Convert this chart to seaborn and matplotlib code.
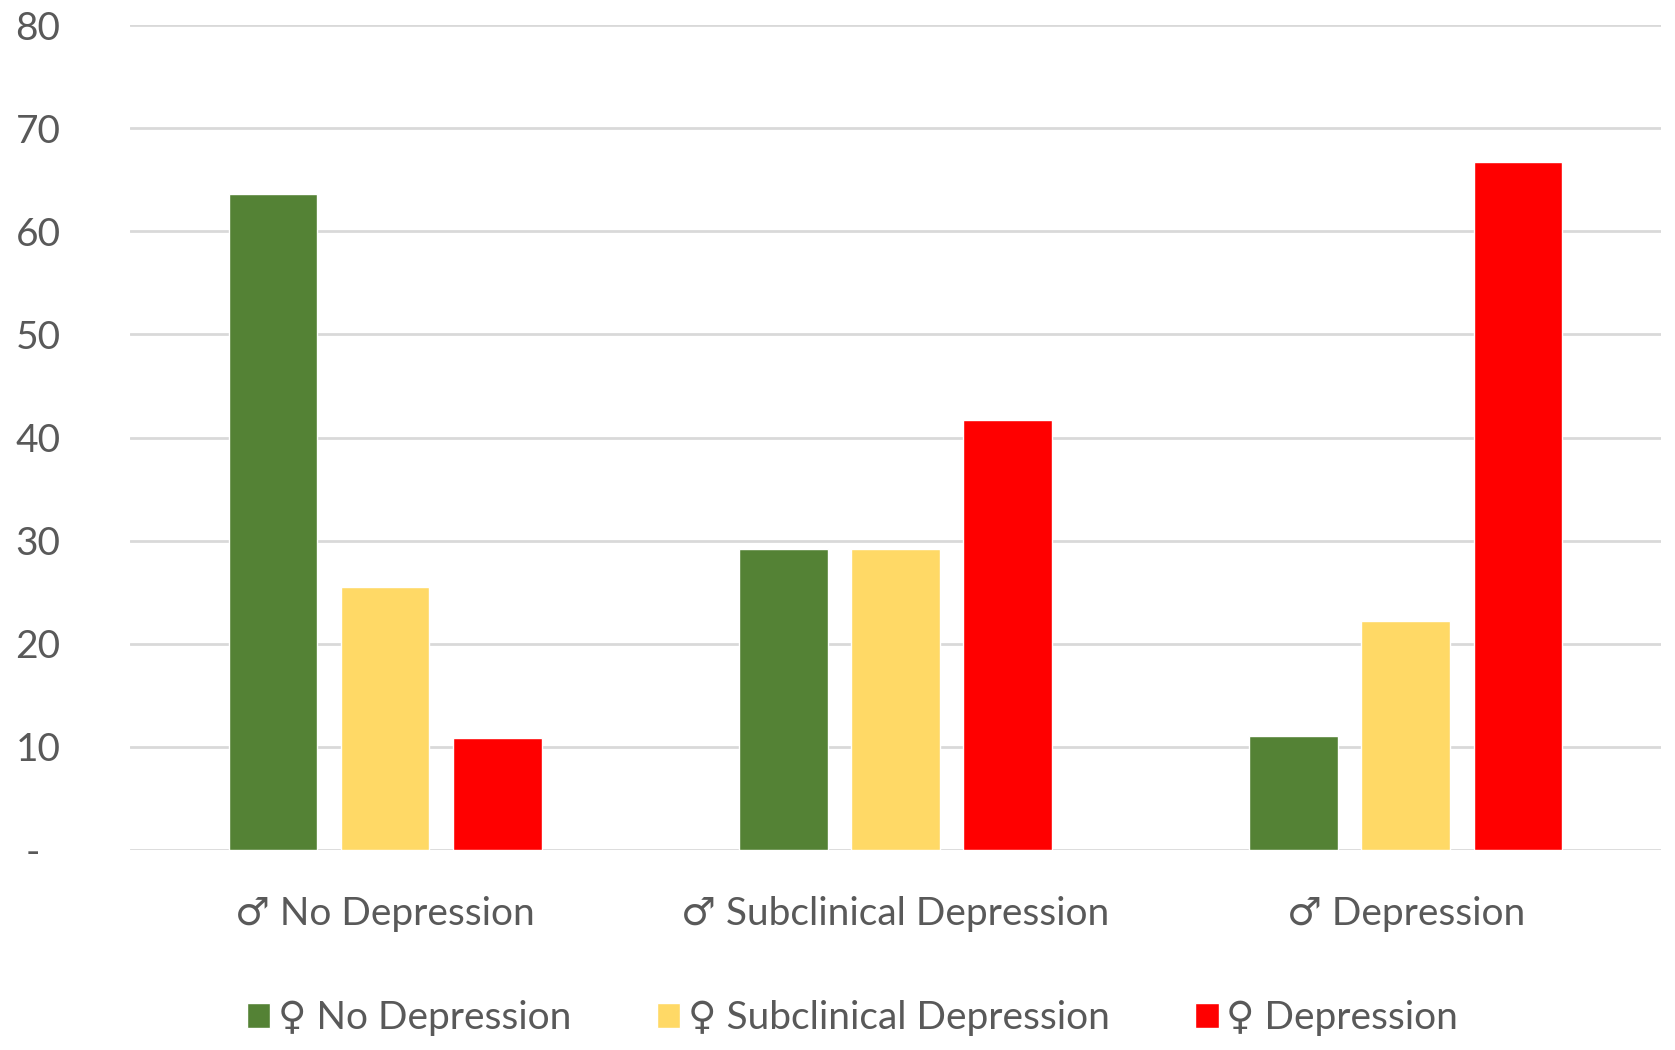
import pandas as pd
import numpy as np
import matplotlib
matplotlib.use('Agg')
import matplotlib.pyplot as plt
import seaborn as sns

# categorias (eixo x) e grupos (legenda)
grupos_masc = ['♂ No Depression', '♂ Subclinical Depression', '♂ Depression']
grupos_fem = ['♀ No Depression', '♀ Subclinical Depression', '♀ Depression']

# valores (%)
fem_no_depression = [63.6, 29.2, 11.1]
fem_subclinical = [25.5, 29.2, 22.2]
fem_depression = [10.9, 41.7, 66.7]

cores = ['#548235', '#FFD966', '#FF0000']
y_ticks = [0, 10, 20, 30, 40, 50, 60, 70, 80]
y_labels = ['-  ', '10', '20', '30', '40', '50', '60', '70', '80']

dados = pd.DataFrame({
    'masc': grupos_masc * 3,
    'fem': np.repeat(grupos_fem, 3),
    'valor': fem_no_depression + fem_subclinical + fem_depression,
})

sns.set_theme(style='white')
plt.rcParams['font.family'] = ['Lato', 'DejaVu Sans']
cinza = '#595959'

fig = plt.figure(figsize=(16.75, 10.5), dpi=100)
ax = fig.add_axes([0.0776, 0.1905, 0.914, 0.7855])

sns.barplot(
    data=dados,
    x='masc',
    y='valor',
    hue='fem',
    palette=cores,
    saturation=1,
    width=0.66,
    gap=0.21,
    ax=ax,
)

ax.set_ylim(0, 80)
ax.set_xlim(-0.5, 2.5)
ax.set_yticks(y_ticks)
ax.set_yticklabels(y_labels)
ax.set_xlabel('')
ax.set_ylabel('')
ax.yaxis.grid(True, color='#D9D9D9', linewidth=2)
ax.set_axisbelow(True)
sns.despine(ax=ax, left=True, bottom=True)
ax.tick_params(axis='y', length=0, pad=50, labelsize=28, labelcolor=cinza)
ax.tick_params(axis='x', length=0, pad=33, labelsize=28, labelcolor=cinza)

ax.legend(
    loc='center',
    bbox_to_anchor=(0.509, 0.03),
    bbox_transform=fig.transFigure,
    ncol=3,
    frameon=False,
    fontsize=28,
    labelcolor=cinza,
    handlelength=0.6,
    handleheight=0.6,
    handletextpad=0.2,
    columnspacing=2.2,
)

fig.savefig('out.png', dpi=100)
